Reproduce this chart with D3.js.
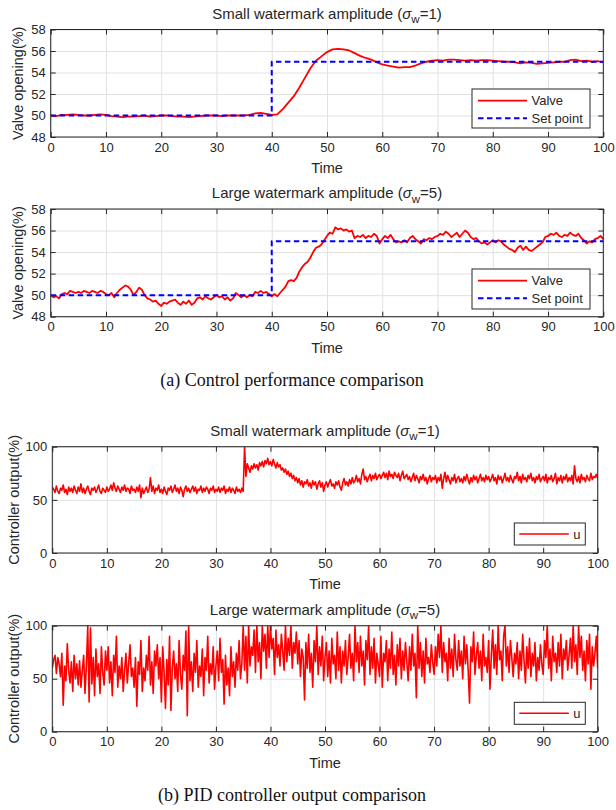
<!DOCTYPE html>
<html lang="en">
<head>
<meta charset="UTF-8">
<title>Watermark amplitude comparison</title>
<script src="https://d3js.org/d3.v7.min.js"></script>
<style>
  body { margin: 0; background: #fff; }
  svg text { font-family: "Liberation Sans", Arial, sans-serif; fill: #262626; }
  .caption { font-family: "Liberation Serif", "Times New Roman", serif; fill: #111; }
</style>
</head>
<body>
<div id="chart"></div>
<script>
// ---------- data ----------
const xTicks = [0, 10, 20, 30, 40, 50, 60, 70, 80, 90, 100];
const valveTicks = [48, 50, 52, 54, 56, 58];
const outputTicks = [0, 50, 100];

// set point (step at t = 40)
const setTime = [0, 40, 40, 100];
const setValue = [50, 50, 55, 55];

// valve opening, sigma_w = 1, one sample per time unit
const valveSmallStep = 1;
const valveSmall = [
  50.0, 49.95, 50.05, 50.05, 50.1, 50.05, 50.0, 50.0, 50.05, 50.1,
  50.05, 49.95, 49.9, 49.85, 49.9, 49.9, 49.95, 50.0, 49.9, 49.95,
  50.0, 50.0, 49.95, 49.9, 49.9, 49.85, 49.9, 49.95, 50.0, 50.0,
  50.0, 49.95, 50.0, 50.0, 50.0, 50.0, 50.05, 50.2, 50.25, 50.15,
  50.05, 50.1, 50.6, 51.2, 51.8, 52.6, 53.5, 54.4, 55.1, 55.5,
  55.9, 56.15, 56.2, 56.15, 56.05, 55.8, 55.55, 55.35, 55.2, 54.95,
  54.75, 54.65, 54.55, 54.45, 54.5, 54.5, 54.65, 54.85, 55.0, 55.1,
  55.15, 55.1, 55.2, 55.2, 55.15, 55.1, 55.15, 55.1, 55.15, 55.15,
  55.1, 55.05, 55.0, 55.0, 54.95, 54.85, 54.95, 54.9, 54.8, 54.85,
  54.9, 54.95, 55.0, 55.0, 55.15, 55.2, 55.05, 55.1, 55.0, 55.05,
  54.95
];

// valve opening, sigma_w = 5, one sample every 0.5 time unit
const valveLargeStep = 0.5;
const valveLarge = [
  50.0, 49.8, 49.9, 49.7, 50.1, 50.2, 50.1, 50.4, 50.3, 50.2,
  50.3, 50.2, 50.4, 50.3, 50.2, 50.4, 50.3, 50.2, 50.4, 50.3,
  50.1, 50.0, 50.2, 49.8, 50.2, 50.5, 50.7, 50.9, 50.8, 50.5,
  50.0, 50.3, 50.7, 50.5, 50.0, 49.7, 49.6, 49.4, 49.5, 49.2,
  49.0, 49.3, 49.2, 49.4, 49.5, 49.6, 49.3, 49.1, 49.4, 49.2,
  49.5, 49.1, 49.3, 49.7, 49.8, 49.6, 49.9, 49.7, 49.6, 49.8,
  50.0, 49.8, 49.9, 49.6, 49.8, 49.5, 49.7, 50.2, 50.0, 49.8,
  50.0, 49.8, 50.0, 49.9, 50.3, 50.2, 50.4, 50.2, 50.3, 50.1,
  49.9, 50.1, 49.9, 50.2, 50.5, 50.8, 51.3, 51.4, 51.3, 51.6,
  52.2, 52.6, 52.9, 53.1, 53.5, 54.0, 54.4, 54.5, 54.7, 55.1,
  55.5, 55.8, 55.7, 56.3, 56.1, 56.2, 56.0, 56.1, 55.9, 56.0,
  55.3, 55.5, 55.4, 55.6, 55.3, 55.5, 55.4, 55.7, 55.5, 54.8,
  55.2, 55.5, 55.3, 55.6, 55.2, 54.9, 55.0, 54.9, 55.1, 54.9,
  55.3, 55.5, 55.2, 55.0, 54.8, 55.2, 55.1, 55.3, 55.2, 55.4,
  55.5, 55.7, 55.6, 55.9, 55.7, 55.4, 55.6, 55.8, 55.4, 55.7,
  56.0, 55.8, 55.4, 55.2, 55.3, 55.0, 54.8, 54.9, 54.7, 54.9,
  55.1, 54.9, 55.1, 55.0, 54.7, 54.5, 54.3, 54.2, 54.0, 54.4,
  54.6, 54.2, 54.5, 54.2, 54.1, 54.3, 54.5, 54.7, 54.9, 55.4,
  55.5, 55.7, 55.6, 55.8, 55.5, 55.4, 55.6, 55.5, 55.8, 55.6,
  55.5, 55.7, 55.3, 55.1, 54.8, 55.0, 54.9, 55.2, 55.3, 55.5,
  55.2
];

// controller output, sigma_w = 1, one sample every 0.25 time unit
const outputSmallStep = 0.25;
const outputSmall = [
  62, 60, 57, 63, 58, 56, 61, 59, 64, 57, 60, 55, 62, 58, 61, 57, 63, 59, 56, 62,
  58, 65, 57, 61, 56, 60, 63, 58, 55, 61, 59, 62, 57, 60, 64, 58, 56, 61, 59, 57,
  62, 58, 60, 64, 59, 66, 61, 58, 63, 60, 57, 62, 59, 64, 58, 61, 60, 56, 63, 59,
  60, 57, 62, 58, 64, 52, 61, 56, 59, 62, 57, 60, 71, 58, 63, 56, 61, 59, 64, 57,
  60, 56, 62, 58, 55, 61, 59, 63, 57, 60, 64, 58, 61, 56, 62, 59, 53, 60, 63, 58,
  61, 57, 60, 63, 58, 62, 56, 60, 59, 63, 57, 61, 58, 62, 60, 56, 61, 59, 63, 57,
  60, 58, 62, 57, 61, 59, 63, 56, 60, 58, 62, 57, 61, 59, 56, 62, 58, 60, 57, 61,
  58, 100, 72, 84, 80, 76, 82, 79, 84, 80, 83, 78, 85, 82, 86, 81, 87, 84, 89, 83,
  86, 82, 88, 84, 80, 85, 81, 83, 78, 80, 76, 79, 74, 77, 72, 75, 70, 73, 68, 71,
  66, 70, 64, 68, 62, 67, 65, 69, 63, 66, 61, 68, 64, 67, 60, 65, 68, 62, 66, 58,
  64, 67, 62, 66, 69, 63, 65, 61, 67, 64, 68, 62, 59, 66, 70, 64, 67, 63, 69, 65,
  71, 66, 68, 73, 67, 70, 65, 74, 79, 69, 72, 67, 71, 74, 68, 73, 70, 75, 69, 72,
  74, 70, 73, 76, 71, 75, 69, 77, 72, 74, 70, 76, 73, 71, 75, 68, 73, 77, 70, 72,
  74, 69, 72, 67, 71, 75, 68, 73, 70, 66, 72, 69, 74, 68, 71, 65, 70, 73, 67, 71,
  69, 73, 66, 71, 68, 74, 61, 70, 76, 67, 73, 69, 65, 71, 68, 74, 66, 70, 72, 67,
  70, 66, 72, 68, 74, 69, 65, 71, 67, 73, 69, 72, 66, 70, 74, 68, 71, 67, 73, 69,
  72, 67, 70, 74, 68, 71, 65, 73, 69, 72, 66, 70, 75, 68, 71, 67, 73, 69, 66, 72,
  70, 76, 68, 72, 66, 74, 69, 71, 67, 73, 70, 75, 68, 71, 66, 72, 69, 74, 67, 70,
  72, 68, 74, 66, 71, 69, 73, 67, 70, 75, 65, 71, 68, 73, 66, 72, 69, 74, 67, 71,
  68, 73, 65, 82, 70, 67, 72, 66, 74, 69, 71, 67, 73, 70, 68, 75, 69, 72, 71, 74,
  70
];

// controller output, sigma_w = 5, one sample every 0.25 time unit
const outputLargeStep = 0.25;
const outputLarge = [
  60, 68, 72, 55, 70, 64, 52, 74, 25, 62, 48, 83, 58, 46, 66, 38, 72, 50, 64, 44,
  67, 42, 58, 72, 36, 62, 100, 28, 98, 45, 70, 34, 78, 52, 64, 36, 80, 56, 44, 76,
  58, 80, 46, 66, 34, 72, 56, 90, 42, 62, 50, 70, 38, 58, 74, 46, 64, 82, 52, 60,
  42, 70, 24, 66, 54, 86, 38, 60, 48, 72, 58, 90, 44, 66, 36, 76, 62, 82, 50, 70,
  28, 80, 56, 22, 68, 44, 90, 20, 60, 76, 50, 64, 38, 86, 54, 40, 72, 58, 95, 15,
  100, 48, 66, 38, 74, 56, 86, 42, 62, 52, 78, 34, 70, 58, 90, 46, 64, 54, 80, 40,
  62, 76, 48, 88, 56, 68, 26, 72, 44, 60, 34, 80, 52, 66, 42, 74, 58, 86, 50, 64,
  100, 58, 90, 46, 100, 62, 80, 72, 96, 56, 100, 66, 84, 50, 100, 76, 92, 60, 100, 70,
  100, 78, 88, 54, 96, 70, 82, 62, 92, 76, 58, 100, 66, 88, 72, 100, 60, 84, 74, 94,
  64, 86, 52, 78, 70, 30, 84, 60, 92, 56, 74, 42, 86, 66, 100, 54, 80, 62, 90, 48,
  70, 84, 52, 76, 46, 88, 64, 72, 50, 94, 58, 80, 46, 76, 62, 86, 54, 70, 92, 60,
  74, 48, 100, 66, 84, 56, 90, 62, 76, 44, 86, 68, 100, 54, 80, 60, 88, 46, 74, 64,
  52, 90, 42, 74, 66, 86, 48, 78, 60, 94, 54, 72, 44, 82, 62, 88, 50, 76, 58, 84,
  66, 48, 80, 58, 92, 62, 74, 32, 100, 60, 84, 52, 76, 46, 88, 64, 70, 56, 82, 66,
  54, 80, 62, 92, 70, 100, 56, 84, 66, 74, 48, 88, 60, 78, 52, 92, 68, 58, 86, 62,
  76, 50, 90, 64, 82, 58, 27, 80, 66, 94, 54, 72, 84, 60, 76, 48, 92, 62, 70, 56,
  86, 40, 72, 96, 60, 82, 54, 100, 68, 76, 48, 90, 100, 62, 80, 56, 86, 70, 52, 74,
  64, 84, 50, 76, 58, 92, 66, 46, 80, 60, 88, 52, 74, 62, 84, 48, 70, 58, 82, 64,
  54, 86, 70, 100, 60, 78, 48, 90, 66, 74, 56, 84, 62, 92, 50, 78, 68, 86, 58, 72,
  88, 60, 100, 66, 82, 54, 100, 70, 90, 58, 76, 48, 86, 64, 92, 40, 80, 62, 74, 90,
  60
];

// ---------- drawing ----------
const width = 616, height = 810;
const svg = d3.select("#chart").append("svg")
  .attr("width", width)
  .attr("height", height);

const RED = "#ff0000", BLUE = "#0000ff", AXIS = "#262626", GRID = "#e1e1e1";

function sampled(values, step) {
  return values.map((v, i) => [i * step, v]);
}
function paired(times, values) {
  return times.map((t, i) => [t, values[i]]);
}

const panels = [
  {
    top: 29.5, bottom: 137, left: 50.7, right: 603.3,
    yDomain: [48, 58], yTicks: valveTicks, sigma: "1", label: "Valve opening(%)", labelX: 18,
    series: [
      { name: "Valve", points: sampled(valveSmall, valveSmallStep), color: RED, width: 1.8 },
      { name: "Set point", points: paired(setTime, setValue), color: BLUE, width: 2, dash: "5.5,3.5" }
    ],
    legend: { x: 472, y: 89, w: 118, h: 39 }
  },
  {
    top: 209, bottom: 316.7, left: 50.7, right: 603.3,
    yDomain: [48, 58], yTicks: valveTicks, sigma: "5", label: "Valve opening(%)", labelX: 18,
    series: [
      { name: "Valve", points: sampled(valveLarge, valveLargeStep), color: RED, width: 1.8 },
      { name: "Set point", points: paired(setTime, setValue), color: BLUE, width: 2, dash: "5.5,3.5" }
    ],
    legend: { x: 472, y: 269, w: 118, h: 40 }
  },
  {
    top: 446.7, bottom: 553, left: 52.3, right: 597.7,
    yDomain: [0, 100], yTicks: outputTicks, sigma: "1", label: "Controller output(%)", labelX: 14,
    series: [
      { name: "u", points: sampled(outputSmall, outputSmallStep), color: RED, width: 1.6 }
    ],
    legend: { x: 514.3, y: 523, w: 71, h: 22 }
  },
  {
    top: 625.7, bottom: 731.7, left: 52.3, right: 597.7,
    yDomain: [0, 100], yTicks: outputTicks, sigma: "5", label: "Controller output(%)", labelX: 14,
    series: [
      { name: "u", points: sampled(outputLarge, outputLargeStep), color: RED, width: 1.6 }
    ],
    legend: { x: 514.3, y: 702.3, w: 71, h: 22 }
  }
];

panels.forEach((p, k) => drawPanel(p, k));

function drawPanel(p, k) {
  const x = d3.scaleLinear().domain([0, 100]).range([p.left, p.right]);
  const y = d3.scaleLinear().domain(p.yDomain).range([p.bottom, p.top]);
  const w = p.right - p.left, h = p.bottom - p.top;
  const g = svg.append("g");

  // grid
  g.append("g")
    .attr("transform", `translate(0,${p.bottom})`)
    .call(d3.axisBottom(x).tickValues(xTicks).tickSize(-h).tickFormat(""))
    .call(a => a.select(".domain").remove())
    .call(a => a.selectAll("line").attr("stroke", GRID));
  g.append("g")
    .attr("transform", `translate(${p.left},0)`)
    .call(d3.axisLeft(y).tickValues(p.yTicks).tickSize(-w).tickFormat(""))
    .call(a => a.select(".domain").remove())
    .call(a => a.selectAll("line").attr("stroke", GRID));

  // clip
  svg.append("clipPath").attr("id", "clip" + k)
    .append("rect").attr("x", p.left).attr("y", p.top).attr("width", w).attr("height", h);

  // data lines
  const line = d3.line().x(d => x(d[0])).y(d => y(d[1]));
  p.series.forEach(s => {
    g.append("path")
      .datum(s.points)
      .attr("clip-path", `url(#clip${k})`)
      .attr("fill", "none")
      .attr("stroke", s.color)
      .attr("stroke-width", s.width)
      .attr("stroke-dasharray", s.dash || null)
      .attr("stroke-linejoin", "round")
      .attr("d", line);
  });

  // inner ticks on all four sides
  const tl = 5;
  const tickAxes = [
    [d3.axisBottom(x).tickValues(xTicks), `translate(0,${p.bottom})`],
    [d3.axisTop(x).tickValues(xTicks), `translate(0,${p.top})`],
    [d3.axisLeft(y).tickValues(p.yTicks), `translate(${p.left},0)`],
    [d3.axisRight(y).tickValues(p.yTicks), `translate(${p.right},0)`]
  ];
  tickAxes.forEach(([ax, tr]) => {
    g.append("g").attr("transform", tr)
      .call(ax.tickSize(-tl).tickFormat(""))
      .call(a => a.select(".domain").remove())
      .call(a => a.selectAll("line").attr("stroke", AXIS));
  });

  // box
  g.append("rect")
    .attr("x", p.left).attr("y", p.top).attr("width", w).attr("height", h)
    .attr("fill", "none").attr("stroke", AXIS).attr("stroke-width", 1);

  // tick labels
  g.append("g")
    .attr("transform", `translate(0,${p.bottom})`)
    .call(d3.axisBottom(x).tickValues(xTicks).tickSize(0).tickPadding(5.5))
    .call(a => a.select(".domain").remove())
    .call(a => a.selectAll("text").attr("font-size", 13).attr("font-family", null).attr("fill", AXIS));
  g.append("g")
    .attr("transform", `translate(${p.left},0)`)
    .call(d3.axisLeft(y).tickValues(p.yTicks).tickSize(0).tickPadding(5))
    .call(a => a.select(".domain").remove())
    .call(a => a.selectAll("text").attr("font-size", 13).attr("font-family", null).attr("fill", AXIS));

  // axis titles
  g.append("text")
    .attr("x", (p.left + p.right) / 2).attr("y", p.bottom + 36)
    .attr("text-anchor", "middle").attr("font-size", 14.5)
    .text("Time");
  g.append("text")
    .attr("transform", `translate(${p.labelX},${(p.top + p.bottom) / 2}) rotate(-90)`)
    .attr("dy", "0.35em")
    .attr("text-anchor", "middle").attr("font-size", 14.5)
    .text(p.label);

  // panel title with sigma_w
  const title = g.append("text")
    .attr("x", (p.left + p.right) / 2).attr("y", p.top - 11)
    .attr("text-anchor", "middle").attr("font-size", 15);
  title.append("tspan").text(k % 2 === 0 ? "Small watermark amplitude (" : "Large watermark amplitude (");
  title.append("tspan").attr("font-style", "italic").text("σ");
  title.append("tspan").attr("font-size", 11.5).attr("dy", 4.5).text("w");
  title.append("tspan").attr("dy", -4.5).text("=" + p.sigma + ")");

  // legend
  const L = p.legend;
  const lg = g.append("g");
  lg.append("rect")
    .attr("x", L.x).attr("y", L.y).attr("width", L.w).attr("height", L.h)
    .attr("fill", "#fff").attr("stroke", AXIS).attr("stroke-width", 1);
  const rowH = p.series.length > 1 ? 17.6 : 0;
  p.series.forEach((s, i) => {
    const cy = p.series.length > 1 ? L.y + 11.7 + i * rowH : L.y + L.h / 2;
    const x0 = L.x + (p.series.length > 1 ? 6 : 5), x1 = x0 + (p.series.length > 1 ? 49 : 49.5);
    lg.append("line")
      .attr("x1", x0).attr("x2", x1).attr("y1", cy).attr("y2", cy)
      .attr("stroke", s.color).attr("stroke-width", s.width)
      .attr("stroke-dasharray", s.dash || null);
    lg.append("text")
      .attr("x", x1 + 4.5).attr("y", cy).attr("dy", "0.35em")
      .attr("font-size", 13)
      .text(s.name);
  });
}

// figure captions
svg.append("text").attr("class", "caption")
  .attr("x", 292).attr("y", 386).attr("text-anchor", "middle").attr("font-size", 18)
  .text("(a) Control performance comparison");
svg.append("text").attr("class", "caption")
  .attr("x", 292).attr("y", 801).attr("text-anchor", "middle").attr("font-size", 18)
  .text("(b) PID controller output comparison");
</script>
</body>
</html>
